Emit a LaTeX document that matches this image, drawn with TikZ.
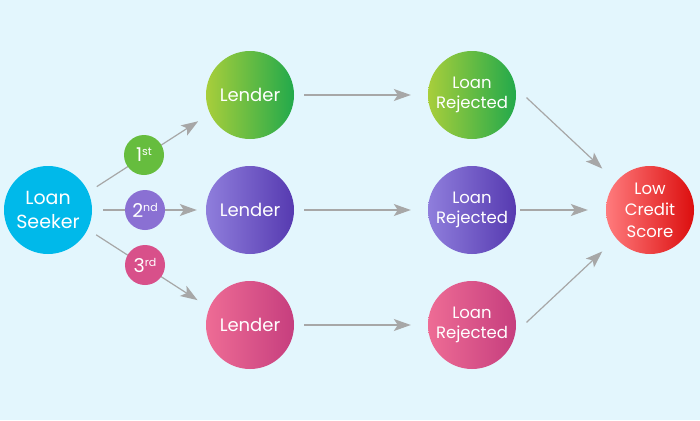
\documentclass[tikz,border=0pt]{standalone}
\usepackage{fontspec}
\setmainfont{Poppins}
\usetikzlibrary{arrows.meta}
\definecolor{bg}{HTML}{E3F6FD}
\definecolor{seek}{HTML}{00B9EA}
\definecolor{gL}{HTML}{A8CE3B}
\definecolor{gR}{HTML}{22A94B}
\definecolor{pL}{HTML}{8F7EDC}
\definecolor{pR}{HTML}{563AB0}
\definecolor{kL}{HTML}{EE6C95}
\definecolor{kR}{HTML}{C63E7E}
\definecolor{rL}{HTML}{FF7B7D}
\definecolor{rR}{HTML}{DC0E0E}
\definecolor{b1}{HTML}{66BD3E}
\definecolor{b2}{HTML}{8A70D3}
\definecolor{b3}{HTML}{D8508A}
\definecolor{arr}{HTML}{A7A7A7}
\tikzset{
  bignode/.style={circle, minimum size=88pt, inner sep=0pt, text=white, align=center, font=\fontsize{16.5}{20.5}\selectfont},
  badge/.style={circle, minimum size=40pt, inner sep=0pt, text=white, font=\fontsize{19}{20}\selectfont},
  conn/.style={draw=arr, line width=1.2pt, -{Stealth[length=17pt,width=12pt,inset=4pt]}},
}
\newcommand{\sups}[1]{\raisebox{6pt}{\fontsize{11}{11}\selectfont #1}}
\begin{document}
\begin{tikzpicture}[x=1pt,y=-1pt]
\fill[bg] (0,0) rectangle (700,420);
\useasboundingbox (0,0) rectangle (700,420);
\node[bignode, fill=seek, font=\fontsize{19}{24}\selectfont] (seeker) at (48,210) {Loan\\Seeker};
\node[bignode, left color=gL, right color=gR, font=\fontsize{18}{20}\selectfont] (l1) at (250,95) {Lender};
\node[bignode, left color=pL, right color=pR, font=\fontsize{18}{20}\selectfont] (l2) at (250,210) {Lender};
\node[bignode, left color=kL, right color=kR, font=\fontsize{18}{20}\selectfont] (l3) at (250,325) {Lender};
\node[bignode, left color=gL, right color=gR] (r1) at (472,95) {Loan\\Rejected};
\node[bignode, left color=pL, right color=pR] (r2) at (472,210) {Loan\\Rejected};
\node[bignode, left color=kL, right color=kR] (r3) at (472,325) {Loan\\Rejected};
\node[bignode, left color=rL, right color=rR, font=\fontsize{16.5}{21.5}\selectfont] (low) at (650,210) {Low\\Credit\\Score};
\draw[conn, shorten <=10pt, shorten >=14pt] (seeker.24) -- (l1.205);
\draw[conn, shorten <=11pt, shorten >=9pt] (seeker.east) -- (l2.west);
\draw[conn, shorten <=10pt, shorten >=14pt] (seeker.-26) -- (l3.157);
\node[badge, fill=b1] (n1) at (144,155) {1\sups{st}};
\node[badge, fill=b2] (n2) at (145,210) {2\sups{nd}};
\node[badge, fill=b3] (n3) at (145,265) {3\sups{rd}};
\draw[conn, shorten <=10pt, shorten >=17pt] (l1.east) -- (r1.west);
\draw[conn, shorten <=10pt, shorten >=17pt] (l2.east) -- (r2.west);
\draw[conn, shorten <=10pt, shorten >=17pt] (l3.east) -- (r3.west);
\draw[conn, shorten <=15pt, shorten >=19pt] (r1.10) -- (low.140);
\draw[conn, shorten <=4pt, shorten >=18pt] (r2.east) -- (low.west);
\draw[conn, shorten <=15pt, shorten >=19pt] (r3.-10) -- (low.-140);
\end{tikzpicture}
\end{document}
